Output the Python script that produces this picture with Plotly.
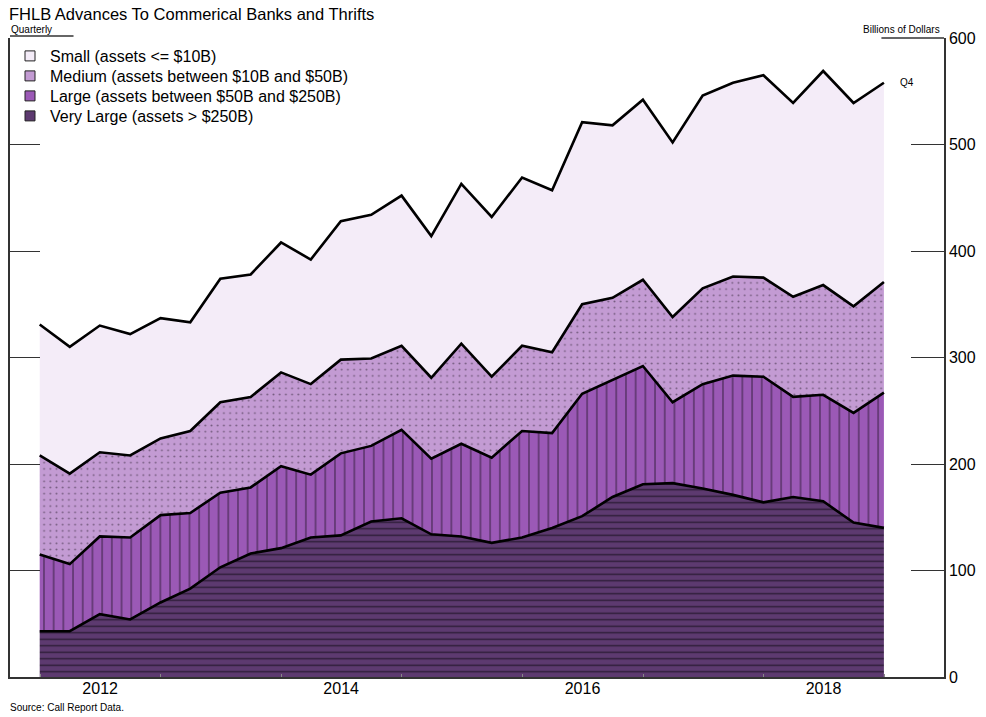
import pandas as pd
import plotly.graph_objects as go

# Quarter-end dates, 2011 Q4 .. 2018 Q4
quarters = [d.strftime("%Y-%m-%d") for d in pd.date_range("2011-12-31", periods=29, freq="QE")]

very_large = [43, 43, 59, 54, 70, 83, 103, 116, 121, 131, 133, 146, 149, 134, 132,
              126, 131, 140, 151, 169, 181, 182, 177, 171, 164, 169, 165, 145, 140]
large = [72, 63, 73, 77, 82, 71, 70, 62, 77, 59, 77, 71, 83, 71, 87,
         80, 100, 89, 115, 110, 111, 76, 98, 112, 118, 94, 100, 103, 127]
medium = [93, 85, 79, 77, 72, 77, 85, 85, 88, 85, 88, 82, 79, 76, 94,
          76, 80, 76, 84, 77, 81, 80, 90, 93, 93, 94, 103, 100, 104]
small = [123, 119, 119, 114, 113, 102, 116, 115, 122, 117, 130, 135, 141, 133, 150,
         150, 158, 152, 171, 162, 169, 164, 181, 182, 190, 182, 201, 191, 187]

series_names = ["Very Large (assets > $250B)", "Large (assets between $50B and $250B)",
                "Medium (assets between $10B and $50B)", "Small (assets <= $10B)"]
series_values = [very_large, large, medium, small]
fill_colors = ["#5d3a70", "#9b59b6", "#c39bd3", "#f4ecf8"]
patterns = [dict(shape="-", size=6.5, solidity=0.22, fgcolor="#000000"),
            dict(shape="|", size=9.7, solidity=0.16, fgcolor="#1a1020"),
            dict(shape=".", size=6.2, solidity=0.08, fgcolor="#2a2030"),
            None]

year_ticks = [f"{y}-01-01" for y in range(2012, 2020)]
label_years = [2012, 2014, 2016, 2018]
label_pos = [f"{y}-07-01" for y in label_years]
y_ticks = [0, 100, 200, 300, 400, 500, 600]

x_range = ["2011-10-02", "2019-07-01"]

fig = go.Figure()
for name, vals, col, pat in zip(series_names, series_values, fill_colors, patterns):
    kw = dict(x=quarters, y=vals, name=name, stackgroup="one", mode="lines",
              line=dict(color="black", width=2.6), fillcolor=col, showlegend=False,
              hoverinfo="skip")
    if pat is not None:
        p = dict(pat)
        p["bgcolor"] = col
        kw["fillpattern"] = p
    fig.add_trace(go.Scatter(**kw))

# legend entries (Small first), each in its own legend for exact spacing
legend_ids = ["legend", "legend2", "legend3", "legend4"]
for lid, (name, col) in zip(legend_ids, reversed(list(zip(series_names, fill_colors)))):
    fig.add_trace(go.Scatter(x=[None], y=[None], mode="markers", name=name, legend=lid,
                             marker=dict(symbol="square", size=10, color=col,
                                         line=dict(color="#222222", width=1))))

total = [a + b + c + d for a, b, c, d in zip(very_large, large, medium, small)]

fig.add_trace(go.Scatter(x=[None], y=[None], xaxis="x2", showlegend=False))
fig.add_trace(go.Scatter(x=[None], y=[None], yaxis="y2", showlegend=False))


def py(pix):
    return (677 - pix) / 639


legend_layout = {}
for i, lid in enumerate(legend_ids):
    legend_layout[lid] = dict(x=0.0, y=py(56 + 20 * i), xanchor="left", yanchor="middle",
                              bgcolor="rgba(0,0,0,0)", font=dict(size=16),
                              itemwidth=30, borderwidth=0)

fig.update_layout(
    width=986, height=717,
    margin=dict(l=10, r=38, t=38, b=40),
    paper_bgcolor="white", plot_bgcolor="white",
    font=dict(family="Liberation Sans, Arial, sans-serif", color="black"),
    showlegend=True,
    xaxis=dict(type="date", range=x_range, showgrid=False, zeroline=False,
               showline=True, linecolor="#333333", linewidth=1.5,
               ticks="inside", ticklen=3, tickcolor="#888888",
               tickvals=year_ticks, showticklabels=False),
    xaxis2=dict(type="date", range=x_range, overlaying="x", anchor="y",
                side="bottom", showgrid=False, zeroline=False, showline=False,
                ticks="", tickvals=label_pos, ticktext=[str(y) for y in label_years],
                tickfont=dict(size=16)),
    yaxis=dict(range=[0, 600], side="right", showgrid=False, zeroline=False,
               showline=True, linecolor="#333333", linewidth=1.5,
               ticks="inside", ticklen=33, tickcolor="#333333",
               tickvals=y_ticks, tickfont=dict(size=16)),
    yaxis2=dict(range=[0, 600], overlaying="y", side="left", anchor="x",
                showgrid=False, zeroline=False, showline=True,
                linecolor="#333333", linewidth=1.5, ticks="inside", ticklen=30,
                tickcolor="#333333", tickvals=y_ticks, showticklabels=False),
    shapes=[
        dict(type="line", xref="paper", yref="paper", x0=0, x1=0.068, y0=1.003, y1=1.003,
             line=dict(color="#333333", width=1.5)),
        dict(type="line", xref="paper", yref="paper", x0=0.933, x1=1.0, y0=1.0, y1=1.0,
             line=dict(color="#333333", width=1.5)),
    ],
    annotations=[
        dict(text="FHLB Advances To Commerical Banks and Thrifts", xref="paper", yref="paper",
             x=0, y=1, xshift=-3, yshift=13, xanchor="left", yanchor="bottom",
             showarrow=False, font=dict(size=16.5)),
        dict(text="Quarterly", xref="paper", yref="paper", x=0, y=1, xshift=-1, yshift=1,
             xanchor="left", yanchor="bottom", showarrow=False, font=dict(size=10)),
        dict(text="Billions of Dollars", xref="paper", yref="paper", x=1, y=1, xshift=-2,
             yshift=1, xanchor="right", yanchor="bottom", showarrow=False,
             font=dict(size=10)),
        dict(text="Q4", x=quarters[-1], y=total[-1], xref="x", yref="y", xanchor="left",
             yanchor="middle", xshift=14, showarrow=False, font=dict(size=10)),
        dict(text="Source: Call Report Data.", xref="paper", yref="paper", x=0, y=0,
             xshift=-2, yshift=-38, xanchor="left", yanchor="bottom", showarrow=False,
             font=dict(size=10)),
    ],
    **legend_layout,
)

fig.write_html("out.html")
